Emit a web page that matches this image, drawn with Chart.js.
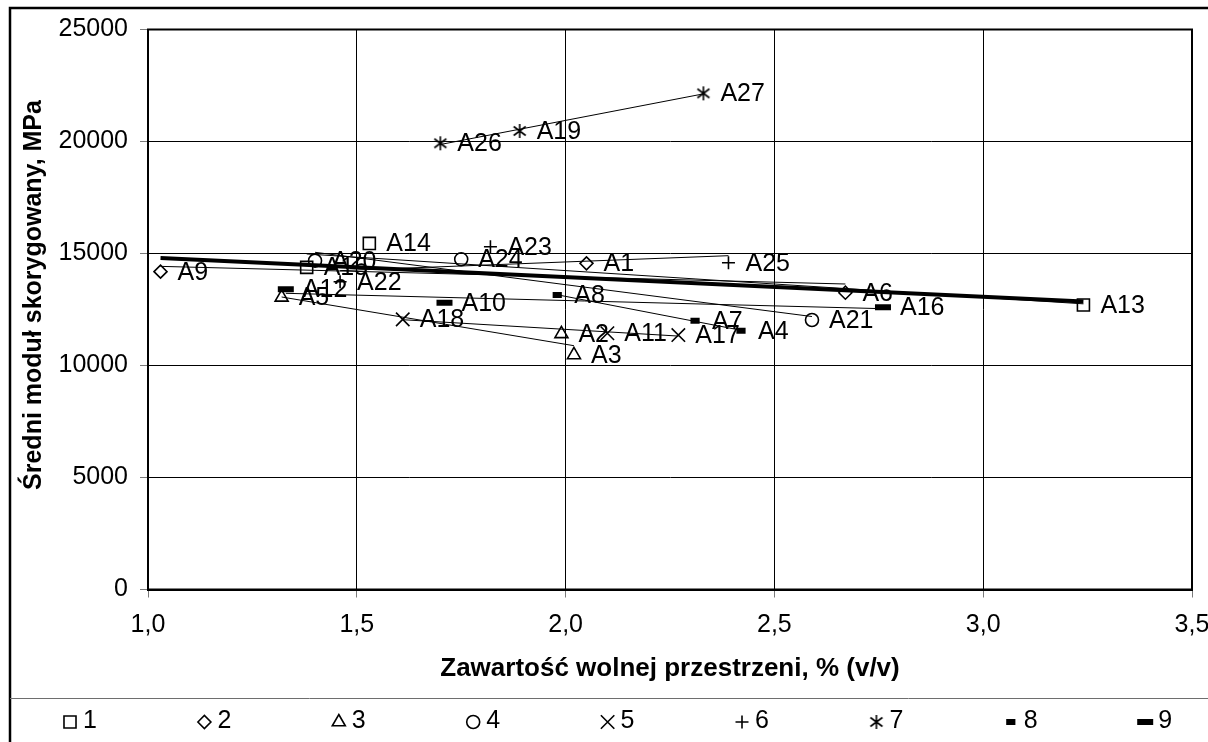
<!DOCTYPE html>
<html>
<head>
<meta charset="utf-8">
<title>Moduł a wolna przestrzeń</title>
<script src="https://cdn.jsdelivr.net/npm/chart.js@4.4.0/dist/chart.umd.min.js"></script>
<style>
  html, body { margin: 0; padding: 0; background: #fff; }
  #wrap { position: relative; width: 1208px; height: 742px; }
</style>
</head>
<body>
<div id="wrap"><canvas id="chart" width="1208" height="742"></canvas></div>
<script>
// Data (9 mixture groups, 3 samples each)
const seriesNames = ['1', '2', '3', '4', '5', '6', '7', '8', '9'];
const pointLabels = [
  ['A14', 'A15', 'A13'],
  ['A9', 'A1', 'A6'],
  ['A5', 'A2', 'A3'],
  ['A20', 'A24', 'A21'],
  ['A18', 'A11', 'A17'],
  ['A22', 'A23', 'A25'],
  ['A26', 'A19', 'A27'],
  ['A8', 'A7', 'A4'],
  ['A12', 'A10', 'A16']
];
const voidValues = [
  [1.53, 1.38, 3.24],
  [1.03, 2.05, 2.67],
  [1.32, 1.99, 2.02],
  [1.40, 1.75, 2.59],
  [1.61, 2.10, 2.27],
  [1.46, 1.82, 2.39],
  [1.70, 1.89, 2.33],
  [1.98, 2.31, 2.42],
  [1.33, 1.71, 2.76]
];
const modulusValues = [
  [15450, 14380, 12700],
  [14190, 14560, 13250],
  [13040, 11410, 10470],
  [14680, 14740, 12030],
  [12060, 11440, 11360],
  [13740, 15300, 14590],
  [19920, 20470, 22150],
  [13150, 12000, 11550],
  [13400, 12800, 12600]
];
const xTicks = [1.0, 1.5, 2.0, 2.5, 3.0, 3.5];
const yTicks = [0, 5000, 10000, 15000, 20000, 25000];

const xTitle = 'Zawartość wolnej przestrzeni, % (v/v)';
const yTitle = 'Średni moduł skorygowany, MPa';
const FONT = '"Liberation Sans", Arial, sans-serif';

// six-armed asterisk marker for group 7
function makeStar() {
  const c = document.createElement('canvas');
  c.width = 16; c.height = 16;
  const g = c.getContext('2d');
  g.strokeStyle = '#000';
  g.lineWidth = 1.6;
  g.beginPath();
  g.moveTo(2, 3.5); g.lineTo(14, 12.5);
  g.moveTo(2, 12.5); g.lineTo(14, 3.5);
  g.moveTo(8, 1); g.lineTo(8, 15);
  g.stroke();
  return c;
}

const markerStyle = ['rect', 'rectRot', 'triangle', 'circle', 'crossRot', 'cross', makeStar(), 'line', 'line'];
const markerRadius = [8.5, 6.5, 7.5, 6.5, 9.5, 6.5, 7, 4.6, 8];
const markerBorder = [1.6, 1.6, 1.6, 1.6, 1.6, 1.6, 1.6, 6, 6];

// least squares line over a set of points, spanning min..max x
function linFit(xs, ys) {
  const n = xs.length;
  const mx = xs.reduce((a, b) => a + b, 0) / n;
  const my = ys.reduce((a, b) => a + b, 0) / n;
  let sxy = 0, sxx = 0;
  for (let i = 0; i < n; i++) {
    sxy += (xs[i] - mx) * (ys[i] - my);
    sxx += (xs[i] - mx) * (xs[i] - mx);
  }
  const slope = sxy / sxx;
  const x0 = Math.min(...xs), x1 = Math.max(...xs);
  return [
    { x: x0, y: my + slope * (x0 - mx) },
    { x: x1, y: my + slope * (x1 - mx) }
  ];
}

const datasets = [];

seriesNames.forEach((name, i) => {
  datasets.push({
    label: name,
    data: voidValues[i].map((x, j) => ({ x: x, y: modulusValues[i][j] })),
    pointStyle: markerStyle[i],
    pointRadius: markerRadius[i],
    pointBorderWidth: markerBorder[i],
    pointBorderColor: '#000',
    pointBackgroundColor: i >= 7 ? '#000' : 'rgba(0,0,0,0)',
    showLine: false
  });
});

// thin trend line for each group
seriesNames.forEach((name, i) => {
  datasets.push({
    label: 'trend ' + name,
    data: linFit(voidValues[i], modulusValues[i]),
    showLine: true,
    borderColor: '#000',
    borderWidth: 1,
    pointRadius: 0
  });
});

// thick trend line over all samples
datasets.push({
  label: 'trend all',
  data: linFit(voidValues.flat(), modulusValues.flat()),
  showLine: true,
  borderColor: '#000',
  borderWidth: 4,
  pointRadius: 0
});

// sample names next to each marker
const pointLabelPlugin = {
  id: 'pointLabels',
  afterDatasetsDraw(chart) {
    const ctx = chart.ctx;
    ctx.save();
    ctx.font = '25px ' + FONT;
    ctx.fillStyle = '#000';
    ctx.textAlign = 'left';
    ctx.textBaseline = 'middle';
    for (let i = 0; i < seriesNames.length; i++) {
      const meta = chart.getDatasetMeta(i);
      meta.data.forEach((pt, j) => {
        ctx.fillText(pointLabels[i][j], pt.x + 17, pt.y + 1);
      });
    }
    ctx.restore();
  }
};

// outer frame, plot border, y title and the legend row under the axis title
const frameLegendPlugin = {
  id: 'frameLegend',
  afterDraw(chart) {
    const ctx = chart.ctx;
    const a = chart.chartArea;
    ctx.save();
    ctx.strokeStyle = '#000';
    ctx.lineWidth = 2;
    ctx.strokeRect(a.left, a.top, a.right - a.left, a.bottom - a.top);

    ctx.lineWidth = 2.5;
    ctx.beginPath();
    ctx.moveTo(10, 742);
    ctx.lineTo(10, 8);
    ctx.lineTo(1208, 8);
    ctx.stroke();

    ctx.strokeStyle = '#6e6e6e';
    ctx.lineWidth = 1;
    ctx.beginPath();
    ctx.moveTo(10, 698.5);
    ctx.lineTo(1208, 698.5);
    ctx.stroke();

    // y axis title sits a little above the plot centre in the original
    ctx.save();
    ctx.translate(34, 295);
    ctx.rotate(-Math.PI / 2);
    ctx.font = 'bold 25px ' + FONT;
    ctx.fillStyle = '#000';
    ctx.textAlign = 'center';
    ctx.textBaseline = 'middle';
    ctx.fillText(yTitle, 0, 0);
    ctx.restore();

    ctx.font = '25px ' + FONT;
    ctx.textBaseline = 'middle';
    ctx.textAlign = 'left';
    seriesNames.forEach((name, i) => {
      const cx = 70 + i * 134.4;
      const cy = 722;
      ctx.strokeStyle = '#000';
      ctx.fillStyle = i >= 7 ? '#000' : 'rgba(0,0,0,0)';
      ctx.lineWidth = markerBorder[i];
      Chart.helpers.drawPoint(ctx, {
        pointStyle: markerStyle[i],
        radius: markerRadius[i],
        borderWidth: markerBorder[i],
        rotation: 0
      }, cx, cy);
      ctx.fillStyle = '#000';
      ctx.fillText(name, cx + 13, cy - 1);
    });
    ctx.restore();
  }
};

const ctx = document.getElementById('chart').getContext('2d');
window.modulusChart = new Chart(ctx, {
  type: 'scatter',
  data: { datasets: datasets },
  options: {
    responsive: false,
    animation: false,
    events: [],
    layout: { padding: { top: 29.5, right: 0, bottom: 0, left: 0 } },
    plugins: {
      legend: { display: false },
      tooltip: { enabled: false }
    },
    scales: {
      x: {
        type: 'linear',
        min: xTicks[0],
        max: xTicks[xTicks.length - 1],
        afterBuildTicks: s => { s.ticks = xTicks.map(v => ({ value: v })); },
        afterFit: s => {
          s.height = 152.5;
          // let the last label run off the right edge like the original
          s.paddingLeft = 0;
          s.paddingRight = 16;
        },
        ticks: {
          color: '#000',
          font: { family: FONT, size: 25 },
          padding: 13,
          maxRotation: 0,
          autoSkip: false,
          callback: v => v.toFixed(1).replace('.', ',')
        },
        grid: { color: '#000', lineWidth: 1, tickColor: '#7a7a7a', tickLength: 8 },
        border: { color: '#000', width: 2 },
        title: {
          display: true,
          text: xTitle,
          color: '#000',
          font: { family: FONT, size: 26, weight: 'bold' },
          padding: { top: 0, bottom: 58 }
        }
      },
      y: {
        type: 'linear',
        min: yTicks[0],
        max: yTicks[yTicks.length - 1],
        afterBuildTicks: s => { s.ticks = yTicks.map(v => ({ value: v })); },
        afterFit: s => { s.width = 148; },
        ticks: {
          color: '#000',
          font: { family: FONT, size: 25 },
          padding: 12,
          callback: v => String(v)
        },
        grid: { color: '#000', lineWidth: 1, tickColor: '#7a7a7a', tickLength: 8 },
        border: { color: '#000', width: 2 },
        title: { display: false }
      }
    }
  },
  plugins: [pointLabelPlugin, frameLegendPlugin]
});
</script>
</body>
</html>
